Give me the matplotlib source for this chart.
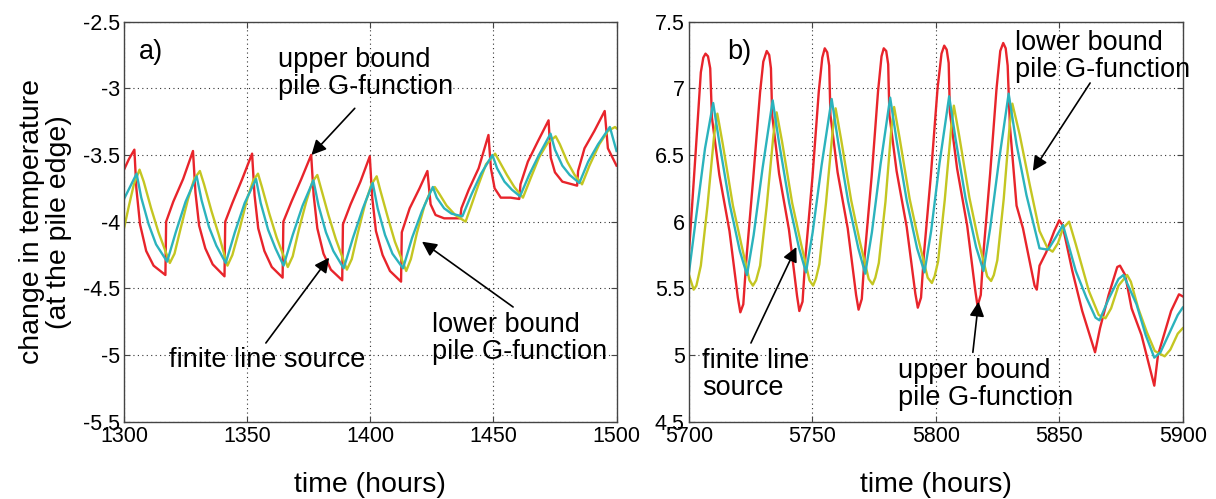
import numpy as np
import matplotlib
matplotlib.use('Agg')
from matplotlib import pyplot as plt

plt.rcParams['font.family'] = ['Liberation Sans', 'DejaVu Sans']

# ---- panel a) : time (hours), change in temperature ----
a_upper = [(1300, -3.61), (1302, -3.53), (1304.2, -3.46), (1305, -3.75), (1306.5, -4.02),
           (1309, -4.22), (1312, -4.33), (1316.8, -4.40), (1317.1, -4.0), (1320, -3.85),
           (1324, -3.68), (1328, -3.47), (1329, -3.78), (1330.5, -4.03), (1333, -4.2),
           (1336, -4.32), (1340.8, -4.41), (1341.1, -4.0), (1344, -3.86), (1348, -3.68),
           (1352, -3.49), (1353, -3.8), (1354.5, -4.05), (1357, -4.22), (1360, -4.34),
           (1364.4, -4.42), (1364.7, -4.0), (1368, -3.85), (1372, -3.68), (1376, -3.50),
           (1377, -3.8), (1378.5, -4.05), (1381, -4.24), (1384, -4.36), (1388.6, -4.44),
           (1388.9, -4.02), (1392, -3.87), (1396, -3.7), (1399.8, -3.51), (1400.8, -3.82),
           (1402.3, -4.07), (1405, -4.25), (1408, -4.37), (1412.5, -4.45), (1412.8, -4.08),
           (1416, -3.9), (1420, -3.75), (1423.2, -3.62), (1424.5, -3.87), (1426.5, -3.95),
           (1430, -3.975), (1436.5, -3.975), (1437, -3.9), (1440, -3.76), (1444, -3.6),
           (1448, -3.35), (1449, -3.6), (1450.5, -3.75), (1453, -3.82), (1457, -3.82),
           (1460.5, -3.83), (1461, -3.72), (1464, -3.55), (1468, -3.4), (1472.4, -3.24),
           (1473.3, -3.52), (1475, -3.63), (1478, -3.7), (1484, -3.73), (1484.4, -3.62),
           (1487, -3.45), (1491, -3.32), (1495.2, -3.17), (1496.5, -3.45), (1500, -3.58)]

a_fls = [(1300, -3.83), (1305.1, -3.64), (1307, -3.82), (1310, -4.02), (1313, -4.17),
         (1317.5, -4.30), (1321, -4.08), (1325, -3.85), (1329.5, -3.66), (1331.5, -3.84),
         (1334.5, -4.04), (1337.5, -4.18), (1341.3, -4.31), (1345, -4.08), (1349, -3.86),
         (1353.6, -3.68), (1355.5, -3.86), (1358.5, -4.06), (1361.5, -4.2), (1364.8, -4.33),
         (1368.5, -4.1), (1372.5, -3.88), (1376.9, -3.69), (1379, -3.88), (1382, -4.08),
         (1385, -4.22), (1389.2, -4.35), (1393, -4.12), (1397, -3.9), (1401, -3.71),
         (1403, -3.9), (1406, -4.1), (1409, -4.24), (1413.3, -4.35), (1417, -4.12),
         (1421, -3.92), (1425.4, -3.74), (1427, -3.82), (1430, -3.9), (1433, -3.94),
         (1437.4, -3.96), (1441, -3.8), (1445, -3.64), (1449.6, -3.50), (1451.5, -3.6),
         (1454.5, -3.7), (1457.5, -3.76), (1460.8, -3.81), (1464.5, -3.65), (1468.5, -3.5),
         (1473.2, -3.34), (1475, -3.46), (1478, -3.58), (1481, -3.65), (1484.9, -3.71),
         (1488.5, -3.55), (1492.5, -3.42), (1497.3, -3.29), (1500, -3.47)]

a_lower = [(1300, -4.05), (1302, -3.88), (1304, -3.72), (1306.3, -3.61), (1308, -3.7),
           (1311, -3.9), (1314, -4.08), (1318.6, -4.31), (1320.5, -4.24), (1323, -4.05),
           (1326, -3.83), (1328.5, -3.68), (1330.8, -3.62), (1332.5, -3.72), (1335.5, -3.92),
           (1338.5, -4.1), (1342, -4.33), (1344, -4.25), (1347, -4.05), (1350, -3.83),
           (1352.5, -3.69), (1354.4, -3.64), (1356, -3.74), (1359, -3.94), (1362, -4.12),
           (1366.5, -4.34), (1368.5, -4.26), (1371, -4.06), (1374, -3.85), (1376.5, -3.7),
           (1378.5, -3.65), (1380, -3.75), (1383, -3.95), (1386, -4.13), (1390.5, -4.36),
           (1392.5, -4.28), (1395, -4.08), (1398, -3.86), (1400.5, -3.72), (1402.6, -3.66),
           (1404, -3.76), (1407, -3.96), (1410, -4.15), (1414.6, -4.37), (1416.5, -4.28),
           (1419, -4.08), (1422, -3.88), (1424.5, -3.77), (1426.2, -3.74), (1428, -3.79),
           (1431, -3.88), (1434.5, -3.95), (1438.7, -4.0), (1441, -3.88), (1444, -3.72),
           (1447, -3.57), (1450.7, -3.49), (1452.5, -3.55), (1455.5, -3.65), (1458.5, -3.74),
           (1462, -3.82), (1465, -3.68), (1468.5, -3.52), (1472, -3.41), (1475.3, -3.36),
           (1477, -3.42), (1480, -3.55), (1483, -3.65), (1486, -3.72), (1489, -3.58),
           (1493, -3.42), (1496.5, -3.32), (1499.4, -3.29), (1500, -3.3)]

# ---- panel b) ----
b_upper = [(5700, 5.77), (5702.7, 6.52), (5704.8, 7.12), (5705.8, 7.23), (5706.7, 7.26),
           (5707.7, 7.24), (5708.6, 7.15), (5709.3, 6.78), (5712.3, 6.35), (5716.4, 5.93),
           (5719.8, 5.43), (5720.8, 5.32), (5722, 5.38), (5723.3, 5.73), (5726, 6.32),
           (5728.8, 6.97), (5730.1, 7.2), (5731.5, 7.28), (5732.5, 7.25), (5733.2, 7.15),
           (5733.7, 6.8), (5736.5, 6.36), (5740.5, 5.94), (5743.8, 5.44), (5744.7, 5.33),
           (5746, 5.4), (5747.2, 5.74), (5750, 6.33), (5752.6, 6.98), (5754, 7.23),
           (5755, 7.30), (5756, 7.27), (5756.8, 7.17), (5757.3, 6.8), (5760.2, 6.37),
           (5764.3, 5.95), (5767.7, 5.45), (5768.7, 5.34), (5770, 5.42), (5771.2, 5.75),
           (5774, 6.34), (5776.6, 6.98), (5778, 7.24), (5778.9, 7.30), (5779.9, 7.28),
           (5780.7, 7.18), (5781.2, 6.8), (5784.1, 6.38), (5788.2, 5.96), (5791.7, 5.46),
           (5792.7, 5.355), (5794, 5.43), (5795.2, 5.76), (5798, 6.35), (5800.7, 7.0),
           (5802.3, 7.26), (5803.4, 7.32), (5804.4, 7.29), (5805.2, 7.19), (5805.7, 6.82),
           (5808.6, 6.4), (5812.7, 5.97), (5816, 5.48), (5816.9, 5.367), (5818.2, 5.45),
           (5819.3, 5.77), (5822, 6.36), (5824.6, 7.0), (5826.1, 7.28), (5827.3, 7.34),
           (5828.3, 7.3), (5829.1, 7.17), (5830, 6.72), (5832.7, 6.12), (5835.3, 5.95),
           (5840, 5.52), (5840.9, 5.49), (5842, 5.67), (5844.7, 5.77), (5848, 5.93),
           (5850, 6.01), (5851.3, 5.975), (5855.3, 5.63), (5859.3, 5.33), (5864.5, 5.02),
           (5866.5, 5.2), (5870, 5.45), (5873.5, 5.66), (5874.6, 5.67), (5876.7, 5.6),
           (5879.3, 5.35), (5883.3, 5.15), (5888.5, 4.77), (5890, 5.0), (5895.3, 5.33),
           (5898.5, 5.455), (5900, 5.44)]

b_fls = [(5700, 5.62), (5703, 6.05), (5706.5, 6.55), (5709.8, 6.89), (5712.4, 6.58),
         (5716.5, 6.13), (5720.6, 5.78), (5723.5, 5.6), (5726.2, 5.9), (5729.8, 6.4),
         (5733.9, 6.91), (5736.5, 6.59), (5740.6, 6.14), (5744.6, 5.8), (5747.4, 5.62),
         (5750.1, 5.92), (5753.7, 6.42), (5757.8, 6.92), (5760.4, 6.6), (5764.5, 6.15),
         (5768.6, 5.8), (5771.4, 5.61), (5774.1, 5.92), (5777.6, 6.43), (5781.5, 6.93),
         (5784.1, 6.61), (5788.2, 6.16), (5792.4, 5.8), (5795.4, 5.62), (5798.1, 5.93),
         (5801.5, 6.44), (5805.4, 6.94), (5808, 6.62), (5812.1, 6.17), (5816.3, 5.81),
         (5819.3, 5.63), (5822, 5.95), (5825.6, 6.46), (5829.5, 6.96), (5832.7, 6.58),
         (5836.7, 6.2), (5842, 5.8), (5845.5, 5.79), (5848.5, 5.88), (5851.5, 5.975),
         (5856.7, 5.63), (5861, 5.43), (5864.7, 5.28), (5866.3, 5.26), (5870, 5.42),
         (5874, 5.57), (5876, 5.6), (5881.3, 5.38), (5885, 5.15), (5888.5, 4.98),
         (5891, 5.02), (5894.5, 5.16), (5898, 5.3), (5900, 5.355)]

b_lower = [(5700, 5.6), (5701.9, 5.49), (5703, 5.52), (5704.8, 5.67), (5707.5, 6.12),
           (5710.2, 6.65), (5711.5, 6.81), (5713.7, 6.58), (5717.8, 6.12), (5721.2, 5.83),
           (5724.5, 5.56), (5725.9, 5.52), (5727.2, 5.56), (5728.8, 5.67), (5731.5, 6.12),
           (5734.2, 6.65), (5735.5, 6.82), (5737.7, 6.6), (5741.8, 6.14), (5745.2, 5.85),
           (5748.8, 5.56), (5750.3, 5.52), (5751.4, 5.57), (5752.8, 5.68), (5755.5, 6.14),
           (5758.2, 6.68), (5759.4, 6.85), (5761.6, 6.62), (5765.7, 6.16), (5769.1, 5.86),
           (5772.8, 5.57), (5774.4, 5.53), (5775.5, 5.58), (5776.9, 5.69), (5779.6, 6.15),
           (5782, 6.7), (5783.1, 6.86), (5785.3, 6.63), (5789.4, 6.17), (5792.9, 5.87),
           (5796.7, 5.58), (5798.4, 5.54), (5799.5, 5.59), (5800.9, 5.7), (5803.6, 6.16),
           (5806.2, 6.7), (5807.3, 6.87), (5809.5, 6.64), (5813.6, 6.18), (5817, 5.88),
           (5820.8, 5.59), (5822.4, 5.555), (5823.5, 5.6), (5824.9, 5.71), (5827.5, 6.17),
           (5829.9, 6.72), (5831, 6.885), (5834, 6.65), (5838, 6.28), (5842, 5.93),
           (5845.3, 5.8), (5847.3, 5.775), (5849.5, 5.84), (5851.5, 5.95), (5854, 6.0),
           (5856.7, 5.83), (5862, 5.48), (5866, 5.3), (5868.7, 5.275), (5871, 5.35),
           (5874, 5.52), (5877.5, 5.6), (5879, 5.55), (5882, 5.35), (5885.5, 5.17),
           (5888.7, 5.03), (5892.7, 4.99), (5895, 5.04), (5898, 5.16), (5900, 5.2)]

red, cyan, yellow = '#e8242b', '#2bb3bd', '#c4c622'

fig = plt.figure(figsize=(12.16, 4.99), dpi=100)
ax1 = fig.add_axes([0.102, 0.155, 0.405, 0.8016])
ax2 = fig.add_axes([0.5666, 0.155, 0.406, 0.8016])


def draw(ax, series):
    for pts, c in series:
        pts = np.array(pts)
        ax.plot(pts[:, 0], pts[:, 1], color=c, lw=1.7)
    ax.grid(True, linestyle=(0, (1, 3)), color='#333333', lw=0.8)
    ax.tick_params(direction='in', top=True, right=True, length=4,
                   labelsize=15.5, pad=3, color='#444444')
    for s in ax.spines.values():
        s.set_color('#444444')
        s.set_linewidth(1.0)
    ax.set_xlabel('time (hours)', fontsize=20.5, labelpad=18)


def arrow(ax, tail, tip):
    ax.annotate('', xy=tip, xytext=tail,
                arrowprops=dict(arrowstyle='-|>', color='k', lw=1.2,
                                mutation_scale=22, shrinkA=0, shrinkB=0))


draw(ax1, [(a_upper, red), (a_lower, yellow), (a_fls, cyan)])
ax1.set_xlim(1300, 1500)
ax1.set_ylim(-5.5, -2.5)
ax1.set_xticks([1300, 1350, 1400, 1450, 1500])
ax1.set_yticks([-5.5, -5, -4.5, -4, -3.5, -3, -2.5])
ax1.set_yticklabels(['-5.5', '-5', '-4.5', '-4', '-3.5', '-3', '-2.5'])
ax1.set_ylabel('change in temperature\n(at the pile edge)', fontsize=20.5,
               labelpad=8, linespacing=1.05)

ax1.text(1311, -2.73, 'a)', fontsize=19.5, va='center', ha='center')
ax1.text(1362.4, -2.89, 'upper bound\npile G-function', fontsize=19.5,
         va='center', ha='left', linespacing=1.05)
arrow(ax1, (1393.7, -3.15), (1376.1, -3.5))
ax1.text(1318.3, -5.04, 'finite line source', fontsize=19.5, va='center', ha='left')
arrow(ax1, (1357.6, -4.91), (1383.3, -4.27))
ax1.text(1425, -4.88, 'lower bound\npile G-function', fontsize=19.5,
         va='center', ha='left', linespacing=1.05)
arrow(ax1, (1458, -4.64), (1421, -4.15))

draw(ax2, [(b_upper, red), (b_lower, yellow), (b_fls, cyan)])
ax2.set_xlim(5700, 5900)
ax2.set_ylim(4.5, 7.5)
ax2.set_xticks([5700, 5750, 5800, 5850, 5900])
ax2.set_yticks([4.5, 5, 5.5, 6, 6.5, 7, 7.5])
ax2.set_yticklabels(['4.5', '5', '5.5', '6', '6.5', '7', '7.5'])

ax2.text(5720.3, 7.27, 'b)', fontsize=19.5, va='center', ha='center')
ax2.text(5832.1, 7.235, 'lower bound\npile G-function', fontsize=19.5,
         va='center', ha='left', linespacing=1.05)
arrow(ax2, (5862.5, 7.04), (5839.3, 6.38))
ax2.text(5705.4, 4.85, 'finite line\nsource', fontsize=19.5,
         va='center', ha='left', linespacing=1.05)
arrow(ax2, (5725.1, 5.09), (5743.5, 5.81))
ax2.text(5784.5, 4.78, 'upper bound\npile G-function', fontsize=19.5,
         va='center', ha='left', linespacing=1.05)
arrow(ax2, (5815, 5.02), (5817.3, 5.40))

fig.savefig('out.png', dpi=100)
